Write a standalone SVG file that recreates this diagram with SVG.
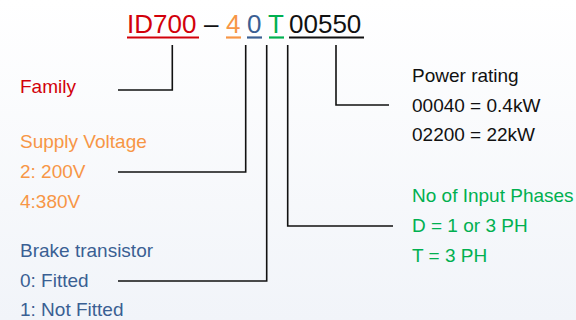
<svg xmlns="http://www.w3.org/2000/svg" width="576" height="320" viewBox="0 0 576 320">
<defs>
<linearGradient id="bg" x1="0" y1="0" x2="0" y2="1">
<stop offset="0" stop-color="#ffffff"/>
<stop offset="1" stop-color="#f1f4f9"/>
</linearGradient>
</defs>
<style>
text{font-family:"Liberation Sans",Arial,sans-serif;font-size:19px}
.code{font-size:26px}
.red{fill:#d2000a}.orange{fill:#f79646}.blue{fill:#3a5f93}.green{fill:#00b050}.black{fill:#111}
.ul{stroke-width:2.2}
.conn{fill:none;stroke:#111;stroke-width:1.6}
</style>
<rect width="576" height="320" fill="url(#bg)"/>
<g id="code">
<text class="code red" x="127" y="33">ID700</text>
<line class="ul" x1="127" y1="37.5" x2="199" y2="37.5" stroke="#d2000a"/>
<text class="code black" x="204" y="33">–</text>
<text class="code orange" x="226" y="33">4</text>
<line class="ul" x1="226" y1="37.5" x2="241" y2="37.5" stroke="#f79646"/>
<text class="code blue" x="247" y="33">0</text>
<line class="ul" x1="247" y1="37.5" x2="262" y2="37.5" stroke="#3a5f93"/>
<text class="code green" x="268" y="33">T</text>
<line class="ul" x1="269" y1="37.5" x2="284" y2="37.5" stroke="#00b050"/>
<text class="code black" x="289" y="33">00550</text>
<line class="ul" x1="289" y1="37.5" x2="364" y2="37.5" stroke="#111"/>
</g>
<g id="connectors">
<path class="conn" d="M172.3 45 V90 H118"/>
<path class="conn" d="M245.7 45 V172 H118"/>
<path class="conn" d="M266.7 45 V281 H118"/>
<path class="conn" d="M287.7 45 V226 H393"/>
<path class="conn" d="M336 45 V105 H389"/>
</g>
<g id="family">
<text class="red" x="20" y="93">Family</text>
</g>
<g id="supply-voltage">
<text class="orange" x="20" y="148">Supply Voltage</text>
<text class="orange" x="20" y="178">2: 200V</text>
<text class="orange" x="20" y="208">4:380V</text>
</g>
<g id="brake-transistor">
<text class="blue" x="20" y="257">Brake transistor</text>
<text class="blue" x="20" y="287">0: Fitted</text>
<text class="blue" x="20" y="316">1: Not Fitted</text>
</g>
<g id="power-rating">
<text class="black" x="412" y="81.5">Power rating</text>
<text class="black" x="412" y="111.5">00040 = 0.4kW</text>
<text class="black" x="412" y="141">02200 = 22kW</text>
</g>
<g id="input-phases">
<text class="green" x="412" y="201.5">No of Input Phases</text>
<text class="green" x="412" y="231.5">D = 1 or 3 PH</text>
<text class="green" x="412" y="261.5">T = 3 PH</text>
</g>
</svg>
